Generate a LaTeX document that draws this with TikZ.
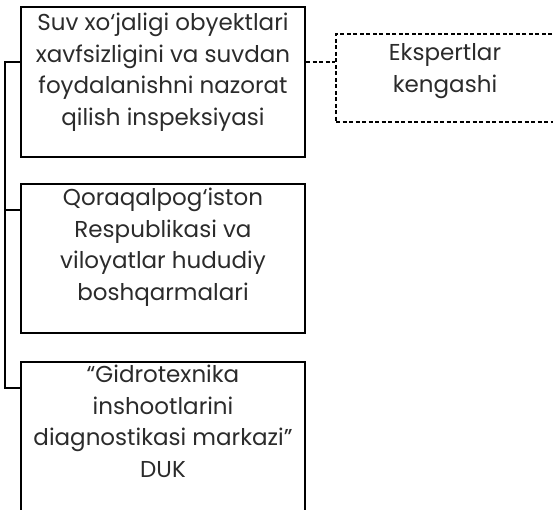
\documentclass[tikz,border=0pt]{standalone}
\usepackage{fontspec}
\setmainfont{Poppins}
\usetikzlibrary{calc}
\definecolor{txtgray}{HTML}{2B2B2B}
\tikzset{
  box/.style={draw=black, line width=2pt, minimum width=284pt, inner sep=0pt},
  dbox/.style={draw=black, line width=1.2pt, dash pattern=on 4pt off 2.5pt, minimum width=220pt, minimum height=88pt, inner sep=0pt},
  txt/.style={text=txtgray, align=center, font=\fontsize{23}{31.5}\selectfont, inner sep=0pt},
  conn/.style={draw=black, line width=2pt},
  dconn/.style={draw=black, line width=1.2pt, dash pattern=on 4pt off 2.5pt}
}
\begin{document}
\begin{tikzpicture}[x=1pt,y=-1pt]
\useasboundingbox (0,0) rectangle (553,510);
\node[box, minimum height=150pt] (b1) at (163,82) {};
\node[box, minimum height=149pt] (b2) at (163,258.5) {};
\node[box, minimum height=153pt] (b3) at (163,438.5) {};
\node[dbox] (d1) at (446,78) {};
\node[txt, anchor=north] (t1) at ([yshift=-7pt]b1.north) {Suv xo‘jaligi obyektlari\\xavfsizligini va suvdan\\foydalanishni nazorat\\qilish inspeksiyasi};
\node[txt, anchor=north] (t2) at ([yshift=-5pt]b2.north) {Qoraqalpog‘iston\\Respublikasi va\\viloyatlar hududiy\\boshqarmalari};
\node[txt, anchor=north] (t3) at ([yshift=-4pt]b3.north) {“Gidrotexnika\\inshootlarini\\diagnostikasi markazi”\\DUK};
\node[txt, anchor=north] (t4) at ([xshift=-1pt,yshift=-10pt]d1.north) {Ekspertlar\\kengashi};
\coordinate (c1) at (5,62);
\coordinate (c2) at (5,210);
\coordinate (c3) at (5,388);
\draw[conn] (b1.west |- c1) -- (c1) -- (c3) -- (b3.west |- c3);
\draw[conn] (c2) -- (b2.west |- c2);
\draw[dconn] (b1.east |- c1) -- (d1.west |- c1);
\end{tikzpicture}
\end{document}
